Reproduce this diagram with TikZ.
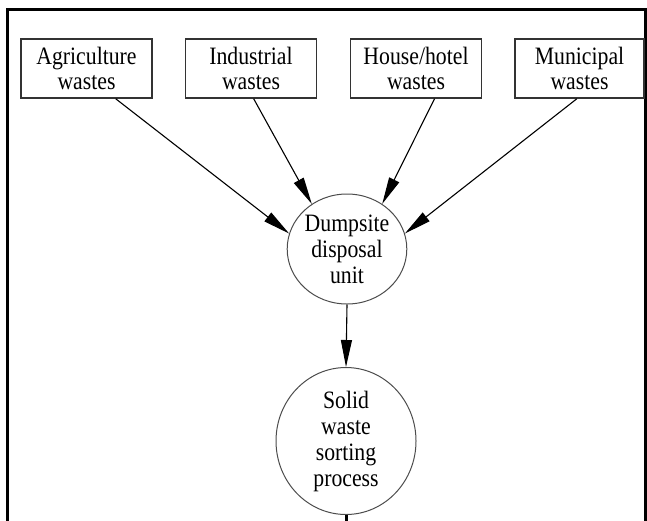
\documentclass[tikz,border=0pt]{standalone}
\usepackage{fontspec}
\setmainfont[FakeStretch=0.87]{Liberation Serif}
\usetikzlibrary{shapes.geometric,arrows.meta,calc}
\tikzset{
  wbox/.style={draw=black!80, line width=1.4pt, minimum width=131pt, minimum height=59pt,
    inner sep=0pt, align=center, font=\fontsize{25}{24.5}\selectfont},
  wcirc/.style={draw=black!70, line width=1pt, ellipse, inner sep=0pt, align=center,
    font=\fontsize{25}{26}\selectfont},
  flow/.style={draw=black, line width=1.1pt, -{Triangle[length=27pt,width=11pt]}},
  frame/.style={draw=black, line width=2.5pt}
}
\begin{document}
\begin{tikzpicture}[x=1pt,y=-1pt]
\useasboundingbox (0,0) rectangle (647,520);
\clip (0,0) rectangle (647,520);
\draw[frame] (7.5,530) -- (7.5,9.5) -- (645.5,9.5) -- (645.5,530);

\node[wbox] (agr) at (86.5,68.5) {Agriculture\\wastes};
\node[wbox] (ind) at (251,68.5) {Industrial\\wastes};
\node[wbox] (hou) at (416,68.5) {House/hotel\\wastes};
\node[wbox, minimum width=129pt] (mun) at (579.5,68.5) {Municipal\\wastes};

\node[wcirc, minimum width=118pt, minimum height=110pt] (dump) at (347,249) {Dumpsite\\disposal\\unit};
\node[wcirc, minimum width=140pt, minimum height=147pt] (sort) at (346,441) {Solid\\waste\\sorting\\process};

\coordinate (sagr) at ($(agr.south west)!0.72!(agr.south east)$);
\coordinate (sind) at ($(ind.south west)!0.52!(ind.south east)$);
\coordinate (shou) at ($(hou.south west)!0.64!(hou.south east)$);
\coordinate (smun) at ($(mun.south west)!0.48!(mun.south east)$);
\coordinate (out) at ($(sort.south)+(0,10)$);

\draw[flow] (sagr) -- (dump.165);
\draw[flow] (sind) -- (dump.128);
\draw[flow] (shou) -- (dump.52);
\draw[flow] (smun) -- (dump.15);
\draw[flow] (dump.south) -- (sort.north);
\draw[line width=3pt] (sort.south) -- (out);
\end{tikzpicture}
\end{document}
